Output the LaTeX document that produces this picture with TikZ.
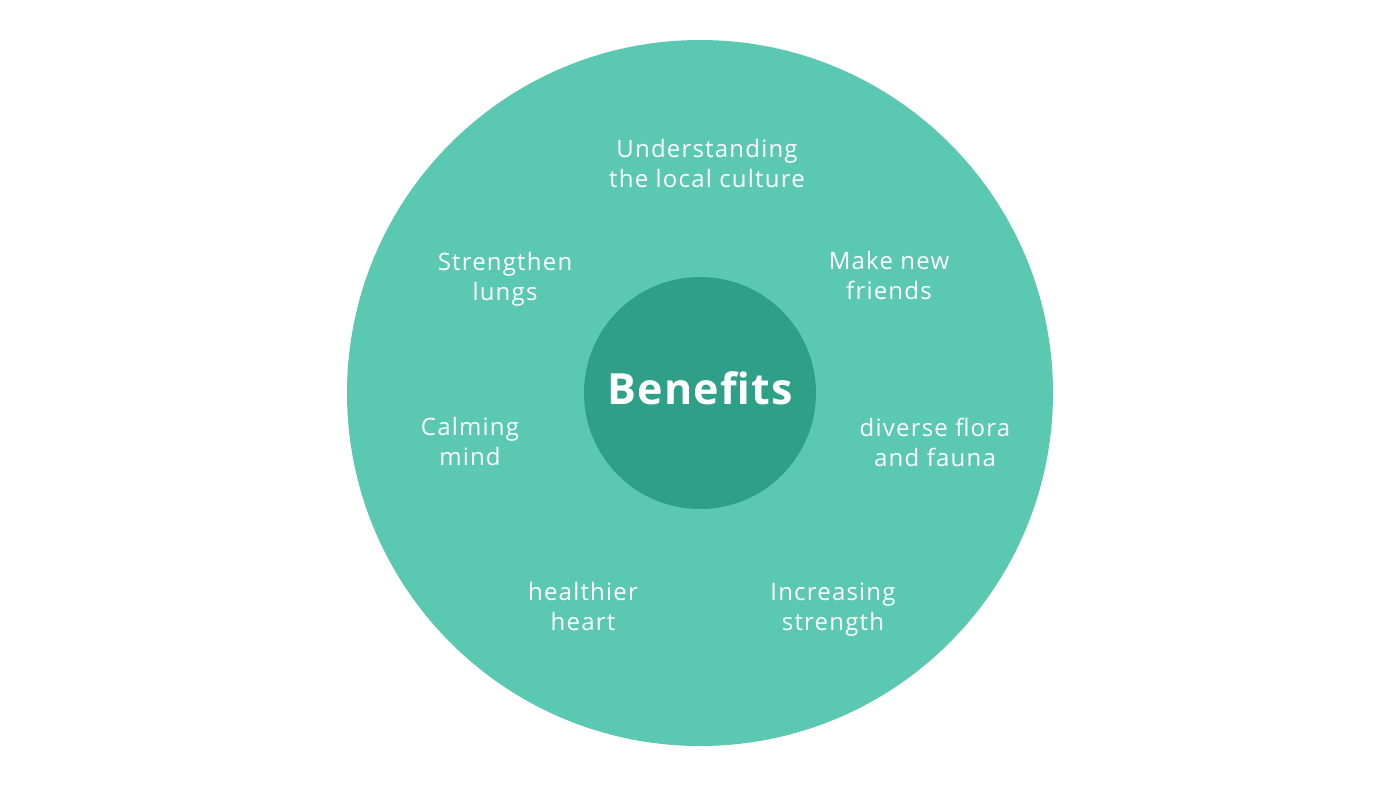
\documentclass[tikz,border=0pt]{standalone}
\usepackage{fontspec}
\setmainfont{Open Sans}[LetterSpace=5]
\newfontfamily\boldsans{Open Sans}[LetterSpace=3,BoldFont={Open Sans Bold}]
\definecolor{outerc}{HTML}{5BC8B1}
\definecolor{innerc}{HTML}{2EA088}
\begin{document}
\begin{tikzpicture}[x=1pt,y=-1pt,
  lbl/.style={text=white,align=center,font=\fontsize{24}{30}\selectfont,inner sep=0pt}]
\useasboundingbox (0,0) rectangle (1400,787);
\fill[white] (0,0) rectangle (1400,787);
\node[circle,fill=outerc,minimum size=706pt,inner sep=0pt] (outer) at (700,393) {};
\node[circle,fill=innerc,minimum size=232pt,inner sep=0pt] (inner) at (700,393) {};
\node[inner sep=0pt,text=white,font=\boldsans\bfseries\fontsize{43}{50}\selectfont] (title) at (700,388) {Benefits};
\node[lbl] (n1) at (707,163) {Understanding\\the local culture};
\node[lbl] (n2) at (505,279) {Strengthen\\lungs};
\node[lbl] (n3) at (889,275) {Make new\\friends};
\node[lbl] (n4) at (470,441) {Calming\\mind};
\node[lbl] (n5) at (935,442) {diverse flora\\and fauna};
\node[lbl] (n6) at (583,606) {healthier\\heart};
\node[lbl] (n7) at (833,610) {Increasing\\strength};
\end{tikzpicture}
\end{document}
